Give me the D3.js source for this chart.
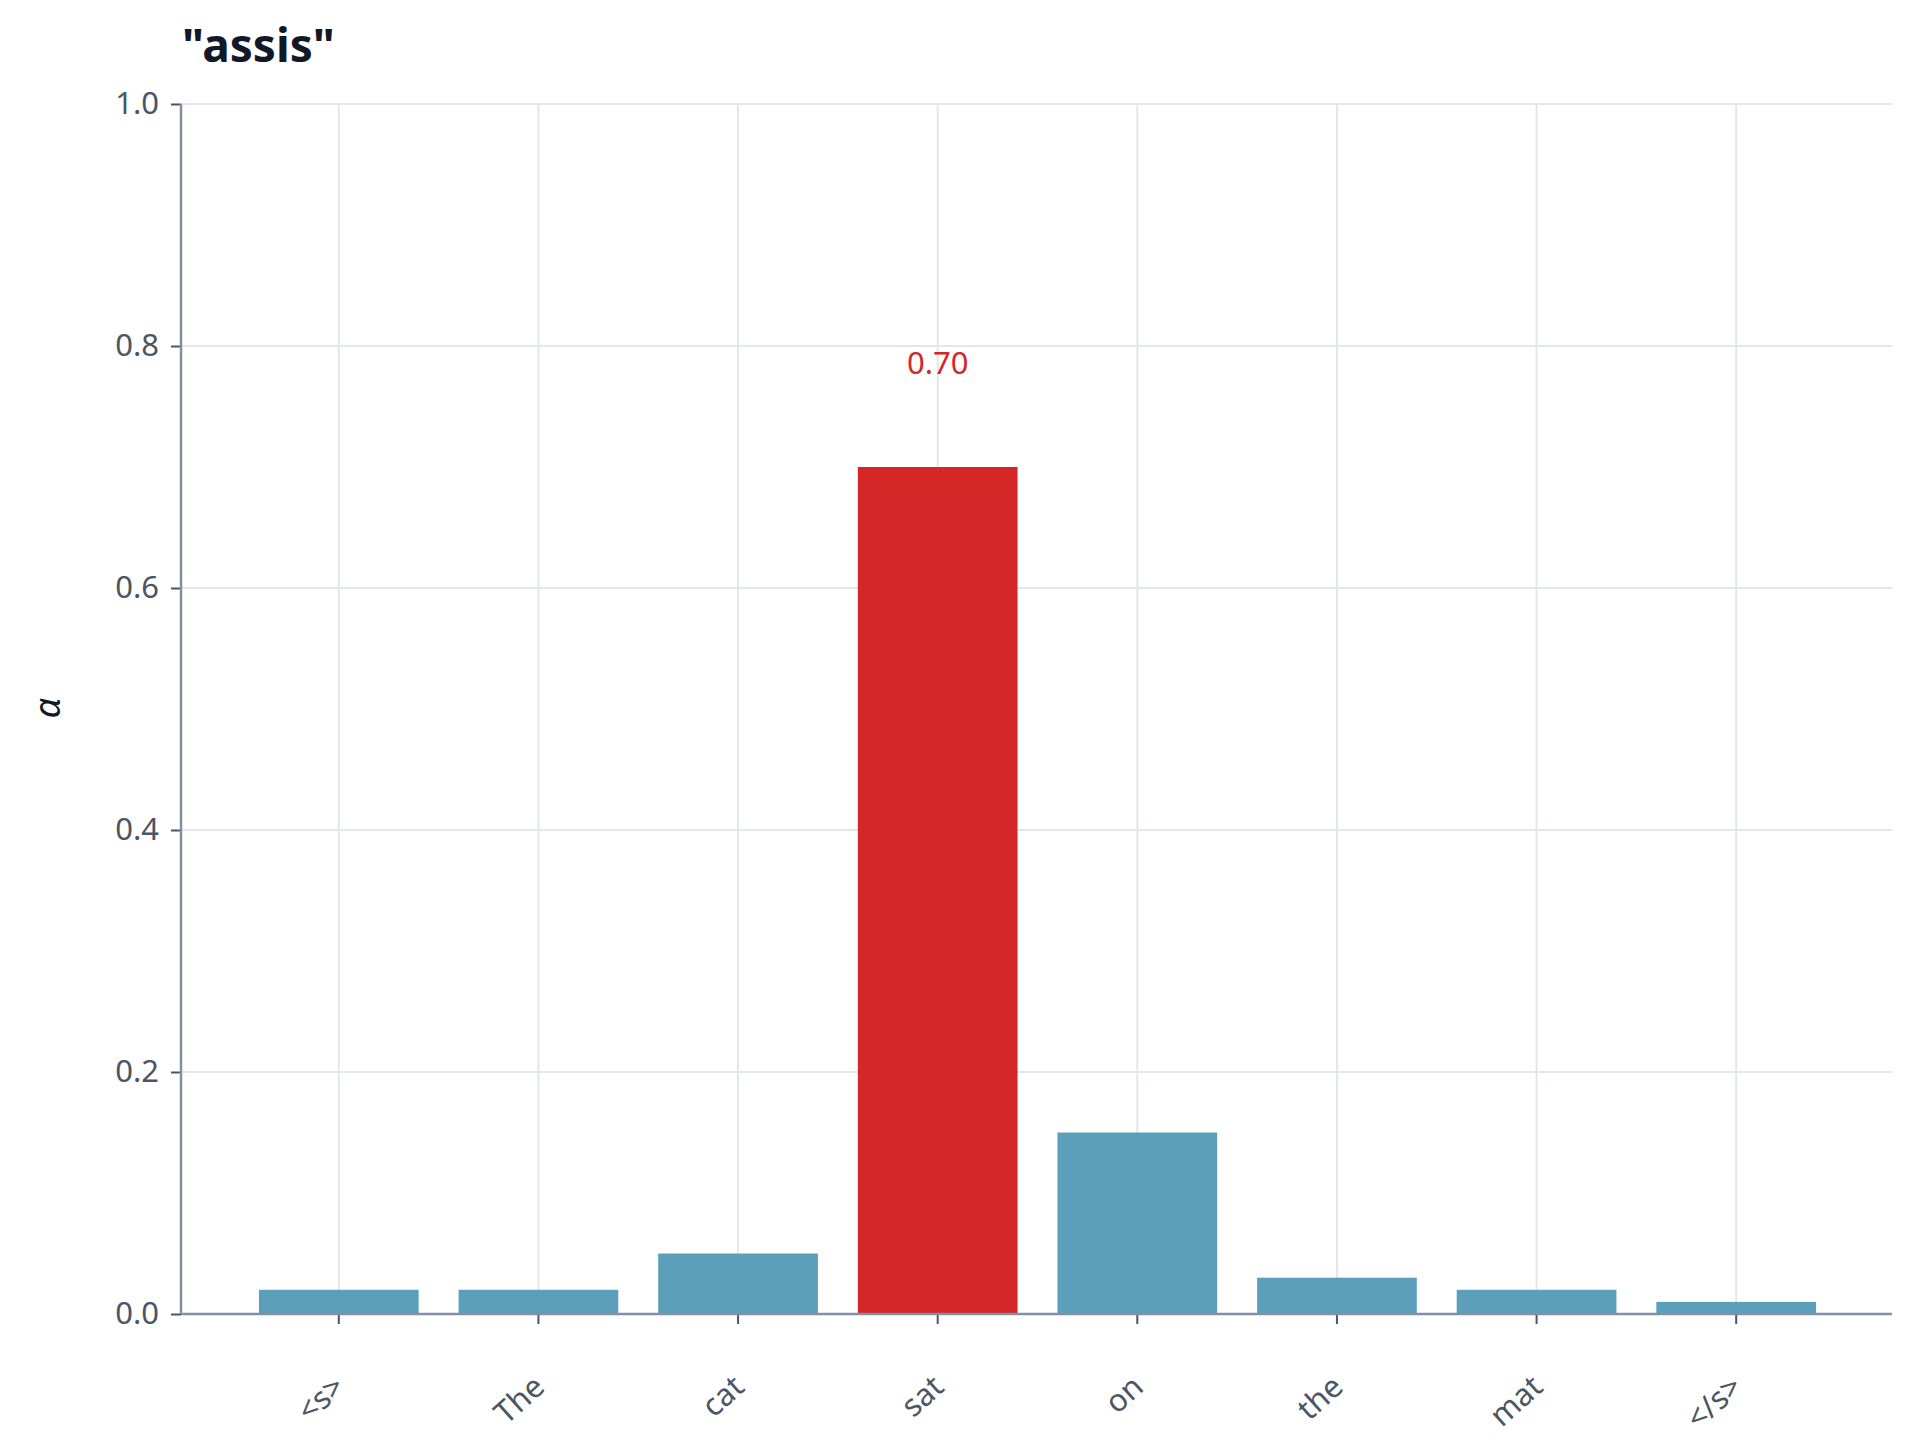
<!DOCTYPE html>
<html>
<head>
<script src="https://cdn.jsdelivr.net/npm/d3@7"></script>
<style>
body { margin: 0; background: #fff; font-family: "Noto Sans", sans-serif; }
</style>
</head>
<body>
<div id="viz"></div>
<script>
// Data
var tokens = ["<s>", "The", "cat", "sat", "on", "the", "mat", "</s>"];
var weights = [0.02, 0.02, 0.05, 0.70, 0.15, 0.03, 0.02, 0.01];
var highlight = "sat";
var yTicks = [0, 0.2, 0.4, 0.6, 0.8, 1.0];

var width = 1920, height = 1448;
var plot = { left: 181, right: 1892, top: 104, bottom: 1314 };

var svg = d3.select("#viz").append("svg")
    .attr("width", width).attr("height", height);

var x = d3.scaleBand().domain(tokens).range([239, 1836]).paddingInner(0.2).paddingOuter(0.1);
var y = d3.scaleLinear().domain([0, 1]).range([plot.bottom, plot.top]);

// Grid
svg.append("g").selectAll("line").data(yTicks).enter().append("line")
    .attr("x1", plot.left).attr("x2", plot.right)
    .attr("y1", function(d) { return y(d); }).attr("y2", function(d) { return y(d); })
    .attr("stroke", "#e3e7ec").attr("stroke-width", 2);
svg.append("g").selectAll("line").data(tokens).enter().append("line")
    .attr("x1", function(d) { return x(d) + x.bandwidth() / 2; })
    .attr("x2", function(d) { return x(d) + x.bandwidth() / 2; })
    .attr("y1", plot.top).attr("y2", plot.bottom)
    .attr("stroke", "#e3e7ec").attr("stroke-width", 2);

// Bars
svg.append("g").selectAll("rect").data(tokens).enter().append("rect")
    .attr("x", function(d) { return x(d); })
    .attr("width", x.bandwidth())
    .attr("y", function(d, i) { return y(weights[i]); })
    .attr("height", function(d, i) { return plot.bottom - y(weights[i]); })
    .attr("fill", function(d) { return d == highlight ? "#d62728" : "#4f98b6"; })
    .attr("fill-opacity", function(d) { return d == highlight ? 1 : 0.93; });

// Value label
var hi = tokens.indexOf(highlight);
svg.append("text")
    .attr("x", x(highlight) + x.bandwidth() / 2)
    .attr("y", y(weights[hi] + 0.08) + 4)
    .attr("text-anchor", "middle").attr("fill", "#d62728")
    .attr("font-size", 31).text(weights[hi].toFixed(2));

// Axes
var yAxis = svg.append("g").attr("transform", "translate(" + plot.left + ",0)")
    .call(d3.axisLeft(y).tickValues(yTicks).tickFormat(d3.format(".1f")).tickSize(10).tickPadding(12));
yAxis.select(".domain").remove();
yAxis.selectAll("line").attr("stroke", "#4b5563").attr("stroke-width", 2);
yAxis.selectAll("text").attr("font-size", 31).attr("fill", "#4b5563").attr("font-family", "Noto Sans");

var xAxis = svg.append("g").attr("transform", "translate(0," + plot.bottom + ")")
    .call(d3.axisBottom(x).tickSize(10).tickPadding(0));
xAxis.select(".domain").remove();
xAxis.selectAll("line").attr("stroke", "#4b5563").attr("stroke-width", 2);
xAxis.selectAll("text")
    .attr("font-size", 31).attr("fill", "#4b5563").attr("font-family", "Noto Sans")
    .attr("text-anchor", "end").attr("dy", "0.35em")
    .attr("transform", "translate(-6,60) rotate(-42)");

// Axis lines
svg.append("line").attr("x1", plot.left).attr("x2", plot.left)
    .attr("y1", plot.top).attr("y2", plot.bottom)
    .attr("stroke", "#8390a3").attr("stroke-width", 2.5);
svg.append("line").attr("x1", plot.left).attr("x2", plot.right)
    .attr("y1", plot.bottom).attr("y2", plot.bottom)
    .attr("stroke", "#8390a3").attr("stroke-width", 2.5);

// Title and y label
svg.append("text").attr("x", 182).attr("y", 62)
    .attr("font-size", 46).attr("font-weight", "bold").attr("fill", "#111827")
    .text('"assis"');
svg.append("text")
    .attr("transform", "translate(60,708) rotate(-90)")
    .attr("text-anchor", "middle").attr("font-size", 36).attr("font-style", "italic").attr("fill", "#111827")
    .text("α");
</script>
</body>
</html>
